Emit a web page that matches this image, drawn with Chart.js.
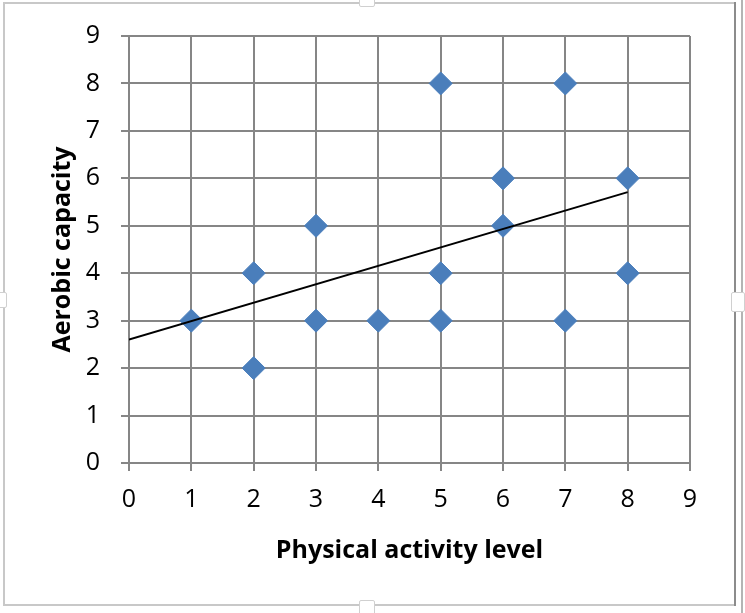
<!DOCTYPE html>
<html>
<head>
<meta charset="utf-8">
<script src="https://cdn.jsdelivr.net/npm/chart.js@4"></script>
<style>
    html, body { margin: 0; padding: 0; background: #fff; }
    #wrap { position: relative; width: 745px; height: 613px; overflow: hidden; }
    #chart { position: absolute; left: 0; top: 0; }
    .ln { position: absolute; background: #c8c8c8; }
    .hd { position: absolute; background: #fff; border: 1px solid #d0d0d0; border-radius: 2px; }
</style>
</head>
<body>
<div id="wrap">
    <canvas id="chart" width="745" height="613"></canvas>
    <div class="ln" style="left:3px; top:2px; width:732px; height:2px;"></div>
    <div class="ln" style="left:3px; top:2px; width:2px; height:604px;"></div>
    <div class="ln" style="left:3px; top:604px; width:732px; height:2px;"></div>
    <div class="ln" style="left:734px; top:2px; width:2px; height:604px; background:#8c8c8c;"></div>
    <div class="ln" style="left:741px; top:0px; width:2px; height:613px; background:#b4b4b4;"></div>
    <div class="hd" style="left:359px; top:-3px; width:14px; height:8px;"></div>
    <div class="hd" style="left:-3px; top:292px; width:8px; height:14px;"></div>
    <div class="hd" style="left:731px; top:292px; width:12px; height:18px;"></div>
    <div class="hd" style="left:359px; top:600px; width:14px; height:16px;"></div>
</div>
<script>
    // Physical activity level vs aerobic capacity
    const activityLevel = [1, 2, 2, 3, 3, 4, 5, 5, 5, 6, 6, 7, 7, 8, 8];
    const aerobicCapacity = [3, 4, 2, 5, 3, 3, 8, 4, 3, 6, 5, 8, 3, 6, 4];
    // linear trendline end points
    const trendX = [0, 8];
    const trendY = [2.6, 5.71];
    const axisTicks = [0, 1, 2, 3, 4, 5, 6, 7, 8, 9];

    const points = activityLevel.map((x, i) => ({ x: x, y: aerobicCapacity[i] }));
    const trend = trendX.map((x, i) => ({ x: x, y: trendY[i] }));

    const gridColor = '#868686';
    const tickFont = { family: 'Open Sans', size: 25 };
    const titleFont = { family: 'Open Sans', size: 25, weight: 'bold' };

    new Chart(document.getElementById('chart'), {
        type: 'scatter',
        data: {
            datasets: [{
                label: 'Aerobic capacity',
                data: points,
                pointStyle: 'rectRot',
                pointRadius: 11.5,
                pointBackgroundColor: '#4a7ebb',
                pointBorderColor: '#4a7ebb',
                pointBorderWidth: 1,
                order: 1
            }, {
                type: 'line',
                label: 'Trend',
                data: trend,
                borderColor: '#000',
                borderWidth: 2,
                pointRadius: 0,
                fill: false,
                order: 0
            }]
        },
        options: {
            responsive: false,
            animation: false,
            events: [],
            layout: { padding: { top: 36, right: 55, left: 0, bottom: 0 } },
            plugins: { legend: { display: false }, tooltip: { enabled: false } },
            scales: {
                x: {
                    type: 'linear',
                    min: 0,
                    max: 9,
                    afterBuildTicks: scale => { scale.ticks = axisTicks.map(v => ({ value: v })); },
                    afterFit: scale => { scale.height = 150; },
                    grid: { color: gridColor, lineWidth: 2, tickLength: 8 },
                    border: { color: gridColor, width: 2 },
                    ticks: { color: '#000', font: tickFont, padding: 14, maxRotation: 0 },
                    title: { display: true, text: 'Physical activity level', color: '#000', font: titleFont, padding: { top: 0, bottom: 47 } }
                },
                y: {
                    type: 'linear',
                    min: 0,
                    max: 9,
                    afterBuildTicks: scale => { scale.ticks = axisTicks.map(v => ({ value: v })); },
                    afterFit: scale => { scale.width = 129; },
                    grid: { color: gridColor, lineWidth: 2, tickLength: 8 },
                    border: { color: gridColor, width: 2 },
                    ticks: { color: '#000', font: tickFont, padding: 21 },
                    title: { display: true, text: 'Aerobic capacity', color: '#000', font: titleFont, padding: { top: 48, bottom: 0 } }
                }
            }
        }
    });
</script>
</body>
</html>
